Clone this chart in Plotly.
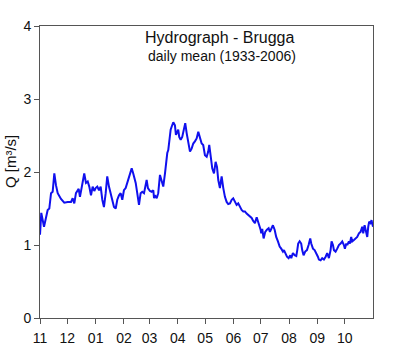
import plotly.graph_objects as go

# Day of hydrological year (0 = 1 Nov) and daily mean discharge Q [m3/s]
days = [0, 1.4, 4.4, 5.8, 8.4, 10.2, 12.1, 13.9, 15.7, 17.5, 19.4, 23, 26.6, 30.4, 34, 35.8, 37.6, 39.4,
        42.4, 43.8, 46, 48.5, 50.4, 52.3, 54, 55.9, 57.7, 59.5,
        61, 62.8, 64.7, 66.5, 68.3, 70.1, 72, 73.7, 75.6, 77.5, 79.2, 81.1, 83, 84.7, 86.6, 88.4, 90.2,
        92, 93.9, 95.7, 97.5, 99.4, 100.5, 102.2, 103.8, 104.9, 106.6, 108.5, 110.3, 112.1, 114, 115.8,
        116.9, 118.3, 120.5, 122.4, 124.2, 125, 126, 127.9, 129.6, 131.5, 133.4, 135.1, 137, 138.1,
        139.5, 140.6, 141.7, 143.2, 144.3, 146.1, 147.9, 149, 150.5, 151.5, 152.6, 154.2, 155.9, 157.8,
        159.2, 160.8, 162.5, 164.4, 166.2, 168, 169.8, 171.7, 173.5, 175.3, 177.2, 178.9, 180.8, 182.7,
        184.4, 185.5, 187.1, 188.8, 190.7, 192.5, 194, 195.4, 197.2, 199.1, 200.9, 202.7, 204.6, 206.3,
        208.2, 210.1, 211.8, 213.7, 215.5, 217.3, 219.2, 221, 222.8, 224.6, 226.5, 228.3, 230.1, 232,
        233.7, 235.6, 237.5, 238.6, 240, 241.8, 242.5, 243.6, 245.1, 246.9, 248.7, 250.6, 252, 253.5,
        255.3, 257.2, 258.9, 260.8, 262.7, 264.4, 266.3, 267.4, 268.8, 270.7, 272.5, 274.3, 275.4,
        277.2, 279.1, 280.9, 282, 283, 284.6, 286.3, 287.4, 288.9, 290.7, 292.6, 294.4, 296.2, 297.3,
        299.2, 301, 302.8, 304.6, 305.7, 307.6, 309.3, 311.2, 313.1, 314.8, 316.7, 318.5, 319.6, 321.1,
        322.2, 324, 325.8, 327.6, 329.5, 331.3, 333.1, 334.2, 335.7, 336.8, 338.6, 339.7, 341.1, 342.2,
        344.1, 345.9, 347.7, 349.6, 351.4, 353.2, 354.3, 355.8, 356.9, 358.7, 359.8, 360.8, 362.3,
        363.4, 365]
q = [1.14, 1.44, 1.25, 1.32, 1.48, 1.50, 1.71, 1.73, 1.98, 1.82, 1.71, 1.63, 1.58, 1.59, 1.59, 1.64, 1.57, 1.71,
     1.77, 1.66, 1.82, 1.98, 1.85, 1.87, 1.80, 1.68, 1.80, 1.74,
     1.78, 1.80, 1.75, 1.80, 1.62, 1.52, 1.71, 1.94, 1.80, 1.71, 1.59, 1.52, 1.50, 1.62, 1.68, 1.71, 1.62,
     1.75, 1.78, 1.85, 1.94, 2.00, 2.05, 1.98, 1.91, 1.85, 1.71, 1.55, 1.71, 1.73, 1.71, 1.82,
     1.89, 1.78, 1.74, 1.73, 1.75, 1.64, 1.68, 1.64, 1.71, 1.96, 1.87, 1.80, 1.98, 2.16,
     2.26, 2.30, 2.44, 2.58, 2.62, 2.68, 2.64, 2.51, 2.55, 2.58, 2.48, 2.44, 2.48, 2.60,
     2.67, 2.53, 2.39, 2.28, 2.32, 2.39, 2.42, 2.46, 2.55, 2.48, 2.39, 2.37, 2.23, 2.21,
     2.28, 2.37, 2.21, 2.05, 1.98, 2.14, 2.07, 1.89, 1.78, 1.94, 1.78, 1.66, 1.59, 1.56,
     1.57, 1.62, 1.64, 1.59, 1.55, 1.57, 1.52, 1.48, 1.46, 1.46, 1.43, 1.41, 1.39, 1.37,
     1.33, 1.30, 1.38, 1.34, 1.26, 1.21, 1.16, 1.22, 1.09, 1.18, 1.21, 1.23, 1.18, 1.23,
     1.27, 1.21, 1.11, 1.05, 0.98, 0.95, 0.91, 0.93, 0.89, 0.84, 0.82, 0.86, 0.82,
     0.89, 0.86, 0.85, 0.93, 1.02, 1.05, 1.02, 0.93, 0.86, 0.91, 0.93, 1.00, 1.09, 1.02,
     0.95, 0.93, 0.89, 0.84, 0.80, 0.79, 0.82, 0.80, 0.84, 0.89, 0.82, 0.93, 1.05, 1.00,
     0.93, 0.91, 0.95, 1.00, 1.02, 1.05, 1.00, 0.95, 1.02, 1.00, 1.05, 1.02, 1.11, 1.05,
     1.07, 1.09, 1.11, 1.16, 1.18, 1.25, 1.16, 1.27, 1.21, 1.11, 1.25, 1.32, 1.30,
     1.34, 1.25]

month_start_days = [0, 30, 61, 92, 120, 151, 181, 212, 242, 273, 304, 334]
month_labels = ["11", "12", "01", "02", "03", "04", "05", "06", "07", "08", "09", "10"]
y_ticks = [0, 1, 2, 3, 4]

FONT = "Arial, 'Liberation Sans', sans-serif"
AX = "#555555"

fig = go.Figure()
fig.add_trace(go.Scatter(x=days, y=q, mode="lines",
                         line=dict(color="#1010ee", width=2), showlegend=False,
                         hoverinfo="skip"))

fig.update_layout(
    width=400, height=352,
    margin=dict(l=40, r=27, t=26, b=34),
    paper_bgcolor="white", plot_bgcolor="white",
    font=dict(family=FONT, color="#111111", size=13),
    xaxis=dict(range=[0, 365], tickvals=month_start_days, ticktext=month_labels,
               showline=True, linecolor=AX, linewidth=1, mirror=True,
               ticks="outside", ticklen=5, tickcolor=AX, showgrid=False, zeroline=False,
               ticklabelstandoff=2, automargin=False,
               tickfont=dict(size=14, family=FONT)),
    yaxis=dict(range=[0, 4], tickvals=y_ticks,
               showline=True, linecolor=AX, linewidth=1, mirror=True,
               ticks="outside", ticklen=5, tickcolor=AX, showgrid=False, zeroline=False,
               automargin=False,
               tickfont=dict(size=14, family=FONT)),
    annotations=[
        dict(text="Hydrograph - Brugga", xref="paper", yref="paper", x=0.541, y=0.962,
             xanchor="center", yanchor="middle", showarrow=False,
             font=dict(size=16, family=FONT, color="#111111")),
        dict(text="daily mean (1933-2006)", xref="paper", yref="paper", x=0.547, y=0.897,
             xanchor="center", yanchor="middle", showarrow=False,
             font=dict(size=14, family=FONT, color="#111111")),
        dict(text="Q [m³/s]", xref="paper", yref="paper", x=-0.09, y=0.534,
             xanchor="center", yanchor="middle", textangle=-90, showarrow=False,
             font=dict(size=15, family=FONT, color="#111111")),
    ],
)

fig.write_html("out.html")
